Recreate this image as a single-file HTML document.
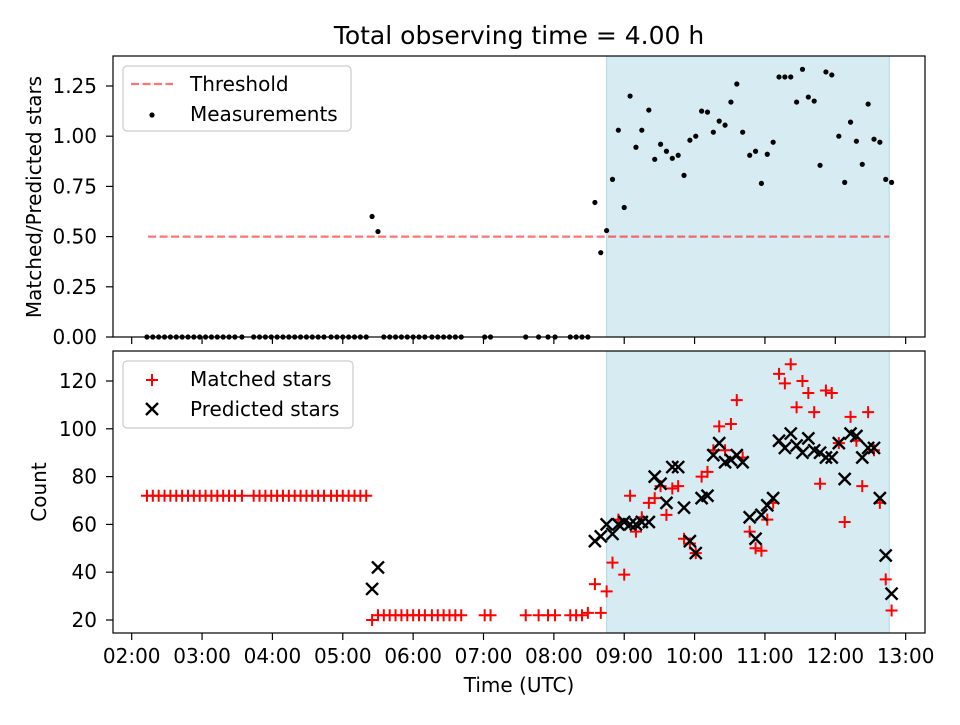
<!DOCTYPE html>
<html><head><meta charset="utf-8"><style>
body{margin:0;background:#fff}
svg text{font-family:"DejaVu Sans","Liberation Sans",sans-serif}
</style></head><body>
<svg id="chart" width="960" height="720" xmlns="http://www.w3.org/2000/svg"></svg>
<script>
// time in minutes since 00:00 UTC
const times = [133,138,143,148,153,158,163,168,173,178,183,188,193,198,203,208,214,
224,229,234,239,244,249,254,259,264,269,274,279,284,290,295,300,305,310,315,320,
325,330,
335,340,345,350,355,360,365,370,376,381,386,391,396,401,
421,426,456,467,475,481,494,499,504,509,
515,520,525,530,535,540,545,550,555,561,566,571,576,581,586,591,596,601,606,611,616,621,626,631,636,641,647,652,657,662,667,672,677,682,687,692,697,702,707,712,717,723,728,733,738,743,748,753,758,763,768];
const ratios = [0,0,0,0,0,0,0,0,0,0,0,0,0,0,0,0,0,
0,0,0,0,0,0,0,0,0,0,0,0,0,0,0,0,0,0,0,0,
0.60,0.525,
0,0,0,0,0,0,0,0,0,0,0,0,0,0,
0,0,0,0,0,0,0,0,0,0,
0.67,0.42,0.53,0.785,1.03,0.645,1.20,0.945,1.03,1.13,0.885,0.96,0.925,0.89,0.905,0.805,0.98,1.0,1.125,1.12,1.02,1.075,1.055,1.17,1.26,1.02,0.905,0.925,0.765,0.91,0.97,1.295,1.295,1.295,1.17,1.333,1.195,1.175,0.855,1.32,1.305,1.0,0.77,1.07,0.975,0.86,1.16,0.985,0.97,0.785,0.77];
const matched = [72,72,72,72,72,72,72,72,72,72,72,72,72,72,72,72,72,
72,72,72,72,72,72,72,72,72,72,72,72,72,72,72,72,72,72,72,72,
20,22,
22,22,22,22,22,22,22,22,22,22,22,22,22,22,
22,22,22,22,22,22,22,22,22,23,
35,23,32,44,62,39,72,57,63,69,71,76,64,75,76,54,52,48,80,82,91,101,91,102,112,88,57,50,49,62,69,123,119,127,109,120,115,107,77,116,115,94,61,105,95,76,107,91,69,37,24];
const predicted = [null,null,null,null,null,null,null,null,null,null,null,null,null,null,null,null,null,
null,null,null,null,null,null,null,null,null,null,null,null,null,null,null,null,null,null,null,null,
33,42,
null,null,null,null,null,null,null,null,null,null,null,null,null,null,
null,null,null,null,null,null,null,null,null,null,
53,55,60,56,60,61,60,60,61,61,80,77,69,84,84,67,53,48,71,72,89,94,86,87,89,86,63,54,64,68,71,95,92,98,93,90,96,91,90,88,88,94,79,98,97,88,92,92,71,47,31];
const xTicks = [120,180,240,300,360,420,480,540,600,660,720,780];
const xTickLabels = ["02:00","03:00","04:00","05:00","06:00","07:00","08:00","09:00","10:00","11:00","12:00","13:00"];
const topTicks = [0,0.25,0.5,0.75,1.0,1.25];
const topTickLabels = ["0.00","0.25","0.50","0.75","1.00","1.25"];
const botTicks = [20,40,60,80,100,120];
const threshold = 0.5;
const thresholdSpan = [134,766];
const shadeSpan = [525,766];

const NS="http://www.w3.org/2000/svg";
const svg=document.getElementById('chart');
function el(tag,attrs,parent){const e=document.createElementNS(NS,tag);for(const k in attrs)e.setAttribute(k,attrs[k]);(parent||svg).appendChild(e);return e;}
const L=113,R=925;
const X=m=>131.7+(m-120)*70.36/60;
const Yt=v=>337-v*200.8;
const Yb=v=>620-(v-20)*2.39;
const T1=56,B1=337,T2=351,B2=633;
const FS=20;

function panel(top,bot,name){
  const g=el('g',{});
  
  
  const sh=el('rect',{x:X(shadeSpan[0]),y:top,width:X(shadeSpan[1])-X(shadeSpan[0]),height:bot-top,fill:'#add8e6','fill-opacity':0.5,stroke:'#add8e6'},g);
  
  
  return g;
}
function frame(top,bot,g){
  el('rect',{x:L,y:top,width:R-L,height:bot-top,fill:'none',stroke:'#000','stroke-width':1.2},g);
  xTicks.forEach(t=>{el('line',{x1:X(t),x2:X(t),y1:bot,y2:bot+7,stroke:'#000','stroke-width':1.2},g);});
}
// top panel
const gt=panel(T1,B1,'ratio-panel');
const th=el('line',{x1:X(thresholdSpan[0]),x2:X(thresholdSpan[1]),y1:Yt(threshold),y2:Yt(threshold),stroke:'#ff0000','stroke-opacity':0.55,'stroke-width':2.2,'stroke-dasharray':'8,3.5'},gt);


times.forEach((t,i)=>{
  const c=el('circle',{cx:X(t),cy:Yt(ratios[i]),r:2.6,fill:'#000'},gt);
  
  
});
frame(T1,B1,gt);
topTicks.forEach((v,i)=>{
  el('line',{x1:L-7,x2:L,y1:Yt(v),y2:Yt(v),stroke:'#000','stroke-width':1.2},gt);
  const tx=el('text',{x:L-16,y:Yt(v)+7,'text-anchor':'end','font-size':FS},gt);tx.textContent=topTickLabels[i];
});
// bottom panel
const gb=panel(T2,B2,'count-panel');
times.forEach((t,i)=>{
  const x=X(t),y=Yb(matched[i]);
  const p=el('path',{d:`M${x-6},${y}H${x+6}M${x},${y-6}V${y+6}`,stroke:'#ff0000','stroke-width':2},gb);
  
  
});
times.forEach((t,i)=>{
  if(predicted[i]==null)return;
  const x=X(t),y=Yb(predicted[i]);
  const p=el('path',{d:`M${x-6},${y-6}L${x+6},${y+6}M${x-6},${y+6}L${x+6},${y-6}`,stroke:'#000','stroke-width':2.4},gb);
  
  
});
frame(T2,B2,gb);
botTicks.forEach(v=>{
  el('line',{x1:L-7,x2:L,y1:Yb(v),y2:Yb(v),stroke:'#000','stroke-width':1.2},gb);
  const tx=el('text',{x:L-16,y:Yb(v)+7,'text-anchor':'end','font-size':FS},gb);tx.textContent=v;
});
xTicks.forEach((t,i)=>{
  const tx=el('text',{x:X(t),y:B2+30,'text-anchor':'middle','font-size':FS},gb);tx.textContent=xTickLabels[i];
});
</script>
<svg width="960" height="720" style="position:absolute;left:0;top:0" xmlns="http://www.w3.org/2000/svg">
<text x="519" y="44" text-anchor="middle" font-size="25">Total observing time = 4.00 h</text>
<text x="0" y="0" transform="translate(41,197) rotate(-90)" text-anchor="middle" font-size="20">Matched/Predicted stars</text>
<text x="0" y="0" transform="translate(46,492) rotate(-90)" text-anchor="middle" font-size="20">Count</text>
<text x="519" y="692" text-anchor="middle" font-size="20">Time (UTC)</text>
<g>
<rect x="123" y="66" width="228" height="65" rx="4" fill="#fff" fill-opacity="0.8" stroke="#ccc" stroke-width="1.2"/>
<line x1="131" y1="84" x2="173" y2="84" stroke="#ff0000" stroke-opacity="0.55" stroke-width="2.2" stroke-dasharray="8,3.5"/>
<text x="190" y="91" font-size="20">Threshold</text>
<circle cx="152" cy="115" r="2.6" fill="#000"/>
<text x="190" y="121" font-size="20">Measurements</text>
</g>
<g>
<rect x="123" y="361" width="230" height="67" rx="4" fill="#fff" fill-opacity="0.8" stroke="#ccc" stroke-width="1.2"/>
<path d="M146,380H158M152,374V386" stroke="#ff0000" stroke-width="2"/>
<text x="190" y="386" font-size="20">Matched stars</text>
<path d="M146,403L158,415M146,415L158,403" stroke="#000" stroke-width="2.4"/>
<text x="190" y="416" font-size="20">Predicted stars</text>
</g>
</svg>
</body></html>
